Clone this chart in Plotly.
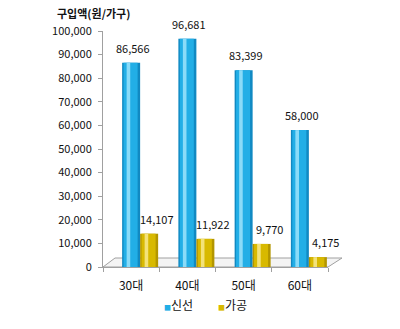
import plotly.graph_objects as go

categories = ["30대", "40대", "50대", "60대"]
fresh = [86566, 96681, 83399, 58000]
processed = [14107, 11922, 9770, 4175]
series_names = ["신선", "가공"]
y_tickvals = [0, 10000, 20000, 30000, 40000, 50000, 60000, 70000, 80000, 90000, 100000]
y_ticktext = ["0", "10,000", "20,000", "30,000", "40,000", "50,000", "60,000", "70,000", "80,000", "90,000", "100,000"]

FONT = "Noto Sans CJK KR"
BLUE = dict(edge="#1189c2", main="#22aee6", hi="#8adbf8")
YELL = dict(edge="#b39600", main="#d8b900", hi="#f3e27a")

W = 0.32
fig = go.Figure()

def cylinder(values, start, pal, name):
    fig.add_trace(go.Bar(x=categories, y=values, width=W, offset=start,
                         marker=dict(color=pal["edge"], line=dict(width=0)),
                         name=name, showlegend=False, hoverinfo="skip"))
    fig.add_trace(go.Bar(x=categories, y=values, width=W * 0.78, offset=start + W * 0.08,
                         marker=dict(color=pal["main"], line=dict(width=0)),
                         showlegend=False, hoverinfo="skip"))
    fig.add_trace(go.Bar(x=categories, y=values, width=W * 0.2, offset=start + W * 0.25,
                         marker=dict(color=pal["hi"], line=dict(width=0)),
                         showlegend=False, hoverinfo="skip"))

cylinder(fresh, -W / 2, BLUE, series_names[0])
cylinder(processed, W / 2, YELL, series_names[1])

L, T, PW, PH = 103, 31, 225, 236

def px(x):
    return (x - L) / PW

def py(y):
    return (T + PH - y) / PH

annotations = []
for c, v in zip(categories, fresh):
    annotations.append(dict(x=c, y=v, xref="x", yref="y", text=f"{v:,}", showarrow=False,
                            yanchor="middle", xanchor="center", xshift=2, yshift=15,
                            font=dict(family=FONT, size=11, color="#111")))
for c, v in zip(categories, processed):
    annotations.append(dict(x=c, y=v, xref="x", yref="y", text=f"{v:,}", showarrow=False,
                            yanchor="middle", xanchor="center", xshift=26, yshift=15,
                            font=dict(family=FONT, size=11, color="#111")))

annotations.append(dict(x=px(55), y=py(13), xref="paper", yref="paper", text="<b>구입액(원/가구)</b>",
                        showarrow=False, xanchor="left", yanchor="middle",
                        font=dict(family=FONT, size=11, color="#111")))

annotations.append(dict(x=px(178), y=py(304), xref="paper", yref="paper",
                        text=f'<span style="color:{BLUE["main"]};font-size:7px">■</span>{series_names[0]}',
                        showarrow=False, xanchor="center", yanchor="middle",
                        font=dict(family=FONT, size=12, color="#111")))
annotations.append(dict(x=px(232), y=py(304), xref="paper", yref="paper",
                        text=f'<span style="color:{YELL["main"]};font-size:7px">■</span>{series_names[1]}',
                        showarrow=False, xanchor="center", yanchor="middle",
                        font=dict(family=FONT, size=12, color="#111")))

floor = (f"M {px(103)} {py(267)} L {px(328)} {py(267)} L {px(342)} {py(258)} "
         f"L {px(115)} {py(258)} Z")

fig.update_layout(
    width=400, height=329,
    margin=dict(l=L, r=400 - L - PW, t=T, b=329 - T - PH, pad=0),
    paper_bgcolor="white", plot_bgcolor="rgba(0,0,0,0)",
    barmode="overlay", showlegend=False,
    font=dict(family=FONT, color="#111"),
    annotations=annotations,
    shapes=[dict(type="path", path=floor, xref="paper", yref="paper",
                 fillcolor="#f4f4f4", line=dict(color="#a0a0a0", width=1), layer="below")],
    xaxis=dict(type="category", categoryorder="array", categoryarray=categories,
               range=[-0.5, 3.5], showline=True, linecolor="#a0a0a0", linewidth=1,
               ticks="outside", tickson="boundaries", ticklen=4, tickcolor="#a0a0a0",
               showgrid=False, zeroline=False, ticklabelstandoff=8,
               tickfont=dict(family=FONT, size=12, color="#111")),
    yaxis=dict(range=[0, 100000], tickvals=y_tickvals, ticktext=y_ticktext,
               showline=True, linecolor="#a0a0a0", linewidth=1,
               ticks="outside", ticklen=4, tickcolor="#a0a0a0",
               showgrid=False, zeroline=False, ticklabelstandoff=4,
               tickfont=dict(family=FONT, size=11, color="#111")),
)

fig.write_html("out.html")
